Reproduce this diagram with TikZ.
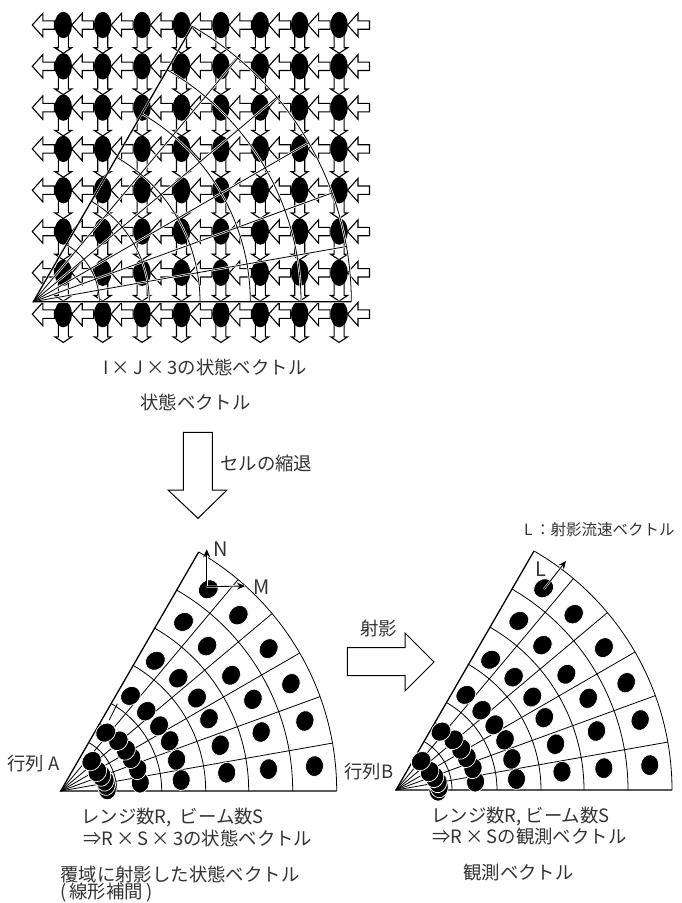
\documentclass[tikz,border=0pt]{standalone}
\usepackage{fontspec}
\setmainfont{Noto Sans CJK JP}
\usetikzlibrary{arrows.meta}
\definecolor{TextGray}{gray}{0.2}
\tikzset{
  flowarrow/.style={draw=black,fill=white,line width=1.1pt,line join=miter},
  blockarrow/.style={draw=black,fill=white,line width=1pt,line join=miter},
  gridline/.style={line width=0.8pt},
  halo/.style={white,line width=2.2pt},
  edgeline/.style={line width=1.3pt},
  cellspot/.style={fill=black,draw=white,line width=0.7pt},
  vecarrow/.style={-{Stealth[length=8pt,width=7pt]},black,line width=0.9pt,
    preaction={draw=white,line width=2pt,-}},
  lab/.style={anchor=west,inner sep=0pt,text=TextGray,font=\fontsize{18.4}{18.4}\selectfont},
  smalllab/.style={lab,font=\fontsize{15.5}{15.5}\selectfont},
  axislab/.style={lab,font=\fontsize{20}{20}\selectfont},
  leftflow/.pic={\path[flowarrow] (-9,-4.2) -- (-20.5,-4.2) -- (-20.5,-11.7) -- (-31,0)
    -- (-20.5,11.7) -- (-20.5,4.2) -- (-9,4.2) -- cycle;},
  downflow/.pic={\path[flowarrow] (-5,10) -- (-5,22.7) -- (-8.5,22.7) -- (0,28.3)
    -- (8.5,22.7) -- (5,22.7) -- (5,10) -- cycle;},
}
% sector grid: apex, outer radius, list of radii
\newcommand{\sectorgrid}[3]{
  \begin{scope}[shift={#1},yscale=-1]
    \foreach \ang in {10,20,30,40,50} \draw[gridline] (0,0) -- (\ang:#2);
    \foreach \rad in {#3}
      \draw[gridline] (0:\rad) arc[start angle=0,end angle=60,radius=\rad];
    \draw[edgeline] (0:#2) -- (0,0) -- (60:#2);
  \end{scope}
}
% spots of the five outer ranges, in polar form around the apex
\newcommand{\spots}[2]{
  \begin{scope}[shift={#1},yscale=-1]
    \foreach \ang/\rad in {
      5.6/255,16/254,25/254,34.4/252,44.7/250,53.8/250,
      6/209,16.4/209,25.5/213,34.2/206,44.7/206,54/209,
      6.3/167,16/166,26/165,34.3/165,43.8/163,54/161,
      5.2/121,15/120,24.7/120,33.5/118,43/117,53.7/118,
      6/80,15.7/80,24.7/78,32/77,41/76.5,52.4/73.7,
      #2}
      \path[cellspot] (\ang:\rad) circle[x radius=10.4,y radius=9,rotate=\ang+90];
  \end{scope}
}
\begin{document}
\begin{tikzpicture}[x=1pt,y=-1pt]
  \useasboundingbox (0,0) rectangle (681,903);
  % state vector lattice
  \foreach \i in {0,...,8}
    \foreach \j in {0,...,7}
      \pic at ({63.3+39.4*\i},{25+41.3*\j}) {leftflow};
  \foreach \i in {0,...,7}
    \foreach \j in {0,...,7}
      \pic at ({63.3+39.4*\i},{25+41.3*\j}) {downflow};
  \foreach \i in {0,...,7}
    \foreach \j in {0,...,7}
      \fill ({63.3+39.4*\i},{25+41.3*\j}) circle[x radius=8.7,y radius=13.2];
  % sector over the lattice
  \begin{scope}[shift={(33.3,301.7)},yscale=-1]
    \foreach \ang in {10,20,30,40,50} \draw[halo] (0,0) -- (\ang:318);
    \foreach \rad in {66,116,166.7,217,267.7,318}
      \draw[halo] (0:\rad) arc[start angle=0,end angle=60,radius=\rad];
    \draw[halo] (0:318) -- (0,0) -- (60:318);
  \end{scope}
  \sectorgrid{(33.3,301.7)}{318}{66,116,166.7,217,267.7,318}
  \node[lab] (sizelab) at (103,367) {I\,×\,J\,×\,3の状態ベクトル};
  \node[lab] (statelab) at (140,402) {状態ベクトル};
  % degeneration arrow
  \draw[blockarrow] (183.3,432.3) -- (212.3,432.3) -- (212.3,490) -- (227,490)
    -- (198,518.3) -- (168,490) -- (183.3,490) -- cycle;
  \node[lab] (degenlab) at (220,463) {セルの縮退};
  % left sector
  \sectorgrid{(60.7,791)}{276}{56,78,101,145,188,232,276}
  \begin{scope}[shift={(60.7,791)},yscale=-1]
    \draw[gridline] (57:104) -- (55.6:86);
  \end{scope}
  \spots{(60.7,791)}{2/46.7,7.4/46,13/45.5,20/43.6,27.8/41.5,44/43}
  \coordinate (spotA) at (206.7,586.7);
  \coordinate (tipN) at (206.7,549.3);
  \coordinate (tipM) at (245,586);
  \draw[vecarrow] (spotA) -- (tipN);
  \draw[vecarrow] (spotA) -- (tipM);
  \node[axislab] (nlab) at (213,549) {N};
  \node[axislab] (mlab) at (253,587) {M};
  \node[lab] (matA) at (7,764) {行列\hspace{5pt}A};
  \node[lab] (rangeA) at (81,817) {レンジ数R,\ \ ビーム数S};
  \node[lab] (countA) at (83,838) {⇒R\,×\,S\,×\,3の状態ベクトル};
  \node[lab] (projA) at (60,874) {覆域に射影した状態ベクトル};
  \node[lab] (interpA) at (60,893) {(\,線形補間\,)};
  % projection arrow
  \draw[blockarrow] (347.3,647.7) -- (405,647.7) -- (405,633) -- (434,662)
    -- (405,691) -- (405,675.7) -- (347.3,675.7) -- cycle;
  \node[lab] (projlab) at (360,628) {射影};
  % right sector
  \sectorgrid{(396,790)}{276}{56,78,101,145,188,232,276}
  \spots{(396,790)}{-1/42,3.5/43.4,10.3/42.7,18/40.7,28.6/38.3,49/38.3}
  \coordinate (spotB) at (544,589);
  \coordinate (tipL) at (566,561);
  \draw[vecarrow] (spotB) -- (tipL);
  \node[axislab] (llab) at (535,569) {L};
  \node[smalllab] (veclab) at (524,530) {L\,：射影流速ベクトル};
  \node[lab] (matB) at (344,772) {行列B};
  \node[lab] (rangeB) at (431,816) {レンジ数R,\ ビーム数S};
  \node[lab] (countB) at (432,837) {⇒R\,×\,Sの観測ベクトル};
  \node[lab] (obslab) at (463,873) {観測ベクトル};
\end{tikzpicture}
\end{document}
